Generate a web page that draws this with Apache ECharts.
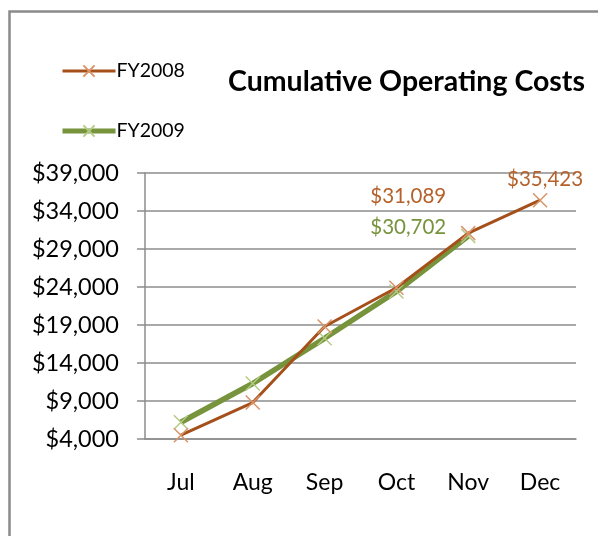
<!DOCTYPE html>
<html>
<head>
<meta charset="utf-8">
<script src="https://cdn.jsdelivr.net/npm/echarts@6/dist/echarts.min.js"></script>
<style>
  html, body { margin: 0; padding: 0; background: #fff; }
  #main { width: 598px; height: 536px; }
</style>
</head>
<body>
<div id="main"></div>
<script>
// months shown on the x axis
var months = ['Jul', 'Aug', 'Sep', 'Oct', 'Nov', 'Dec'];
// cumulative costs (labelled points are exact)
var fy2008 = [4500, 8800, 18800, 23900, 31089, 35423];
var fy2009 = [6200, 11300, 17250, 23400, 30702, null];
var yMin = 4000, yMax = 39000, yStep = 5000;

var brown = '#A5501A', brownMark = '#D9956A';
var green = '#77933C', greenMark = '#B3CC85';
var font = 'Lato';

// little "x" marker like the Excel one
var cross = 'path://M0,0L10,10M10,0L0,10';

function money(v) {
    return '$' + v.toLocaleString('en-US');
}

var option = {
    backgroundColor: '#fff',
    animation: false,
    title: {
        text: 'Cumulative Operating Costs',
        left: 223,
        top: 62,
        textStyle: { fontFamily: font, fontWeight: 'bold', fontSize: 28.5, color: '#000' }
    },
    legend: {
        orient: 'vertical',
        left: 55,
        top: 56,
        itemGap: 40,
        itemWidth: 53,
        itemHeight: 14,
        textStyle: { fontFamily: font, fontSize: 19.5, color: '#000', padding: [0, 0, 0, -4] },
        data: [
            { name: 'FY2008', lineStyle: { width: 3 } },
            { name: 'FY2009', lineStyle: { width: 5 } }
        ]
    },
    grid: { left: 145, right: 22, top: 173, bottom: 97, containLabel: false },
    xAxis: {
        type: 'category',
        data: months,
        axisLine: { lineStyle: { color: '#8c8c8c', width: 1.5 } },
        axisTick: { length: 8, lineStyle: { color: '#8c8c8c', width: 1.5 } },
        axisLabel: { fontFamily: font, fontSize: 23, color: '#000', margin: 32 }
    },
    yAxis: {
        type: 'value',
        min: yMin,
        max: yMax,
        interval: yStep,
        axisLine: { show: true, lineStyle: { color: '#8c8c8c', width: 1.5 } },
        axisTick: { show: true, length: 8, lineStyle: { color: '#8c8c8c', width: 1.5 } },
        axisLabel: { fontFamily: font, fontSize: 23.5, color: '#000', margin: 26, formatter: money },
        splitLine: { lineStyle: { color: '#8c8c8c', width: 1.5 } }
    },
    series: [
        {
            name: 'FY2008',
            type: 'line',
            data: fy2008.map(function (v, i) {
                var d = { value: v };
                if (i === 4) d.label = { show: true, offset: [-60, -12] };
                if (i === 5) d.label = { show: true, offset: [5, 4] };
                return d;
            }),
            symbol: cross,
            symbolSize: 14,
            showAllSymbol: true,
            lineStyle: { color: brown, width: 3 },
            itemStyle: { color: 'none', borderColor: brownMark, borderWidth: 1.5 },
            label: {
                show: false, position: 'top', formatter: function (p) { return money(p.value); },
                fontFamily: font, fontSize: 20.5, color: '#B5612B'
            },
            z: 3
        },
        {
            name: 'FY2009',
            type: 'line',
            data: fy2009.map(function (v, i) {
                var d = { value: v };
                if (i === 4) d.label = { show: true, offset: [-60, 16] };
                return d;
            }),
            symbol: cross,
            symbolSize: 14,
            showAllSymbol: true,
            lineStyle: { color: green, width: 5.5 },
            itemStyle: { color: 'none', borderColor: greenMark, borderWidth: 1.5 },
            label: {
                show: false, position: 'top', formatter: function (p) { return money(p.value); },
                fontFamily: font, fontSize: 20.5, color: '#77933C'
            },
            z: 2
        }
    ],
    graphic: [
        {
            type: 'rect',
            left: 7, top: 9,
            shape: { width: 700, height: 700 },
            style: { fill: 'none', stroke: '#8a8a8a', lineWidth: 2.5 },
            silent: true
        }
    ]
};

echarts.init(document.getElementById('main')).setOption(option);
</script>
</body>
</html>
